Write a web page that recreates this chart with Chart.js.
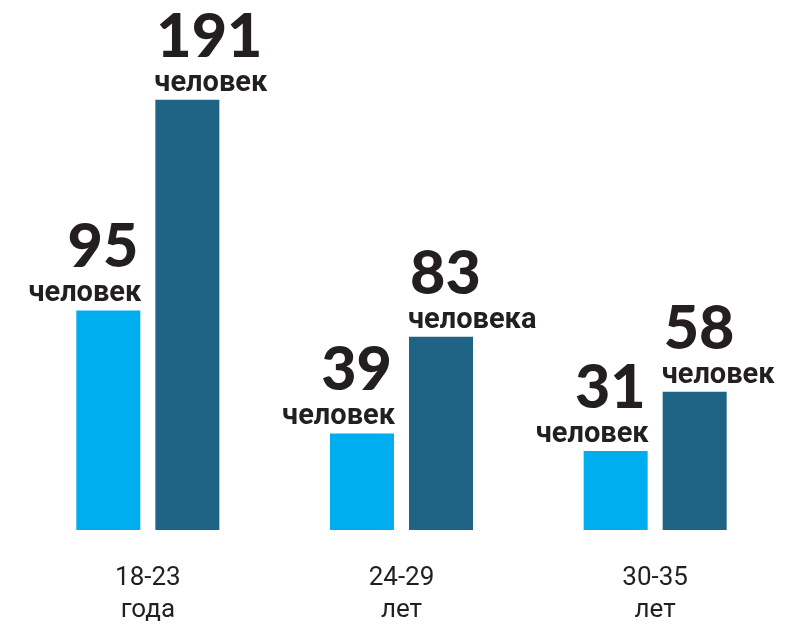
<!DOCTYPE html>
<html>
<head>
<meta charset="utf-8">
<script src="https://cdn.jsdelivr.net/npm/chart.js@4"></script>
<style>
  html, body { margin: 0; padding: 0; background: #fff; }
  #wrap { width: 804px; height: 624px; }
</style>
</head>
<body>
<div id="wrap"><canvas id="mycanvas"></canvas></div>
<script>
// chart values
var ageGroups = [["18-23", "года"], ["24-29", "лет"], ["30-35", "лет"]];
var firstValues = [95, 39, 31];
var secondValues = [191, 83, 58];
var firstWords = ["человек", "человек", "человек"];
var secondWords = ["человек", "человека", "человек"];

var lightBlue = "#00aeef";
var darkBlue = "#1f6485";
var textColor = "#231f20";
var axisMin = -5; // bars in the original start a bit below zero

// draws the big number + word above each bar
var barLabels = {
    id: "barLabels",
    afterDatasetsDraw: function(chart) {
        var ctx = chart.ctx;
        chart.data.datasets.forEach(function(ds, di) {
            var meta = chart.getDatasetMeta(di);
            meta.data.forEach(function(bar, i) {
                var half = bar.width / 2;
                var x = di === 0 ? bar.x + half : bar.x - half;
                ctx.save();
                ctx.fillStyle = textColor;
                ctx.textAlign = di === 0 ? "right" : "left";
                ctx.textBaseline = "alphabetic";
                ctx.font = "bold 29px Roboto";
                ctx.fillText(ds.words[i], di === 0 ? x + 1 : x - 1, bar.y - 9);
                ctx.font = "900 61px Lato";
                ctx.fillText(String(ds.data[i]), di === 0 ? x - 2 : x + 1, bar.y - 43);
                ctx.restore();
            });
        });
    }
};

var ctx = document.getElementById("mycanvas");
var myChart = new Chart(ctx, {
    type: "bar",
    data: {
        labels: ageGroups,
        datasets: [{
            data: firstValues,
            words: firstWords,
            backgroundColor: lightBlue,
            base: axisMin,
            categoryPercentage: 0.623,
            barPercentage: 0.81
        }, {
            data: secondValues,
            words: secondWords,
            backgroundColor: darkBlue,
            base: axisMin,
            categoryPercentage: 0.623,
            barPercentage: 0.81
        }]
    },
    options: {
        responsive: true,
        maintainAspectRatio: false,
        animation: false,
        layout: { padding: { top: 80, left: 21, right: 22, bottom: 0 } },
        plugins: {
            legend: { display: false },
            tooltip: { enabled: false }
        },
        scales: {
            x: {
                grid: { display: false, drawTicks: false },
                border: { display: false },
                afterFit: function(scale) { scale.height = 94; },
                ticks: {
                    color: textColor,
                    padding: 32,
                    font: { family: "Roboto", size: 26, lineHeight: 1.25 }
                }
            },
            y: {
                display: false,
                min: axisMin,
                max: 200
            }
        }
    },
    plugins: [barLabels]
});
</script>
</body>
</html>
